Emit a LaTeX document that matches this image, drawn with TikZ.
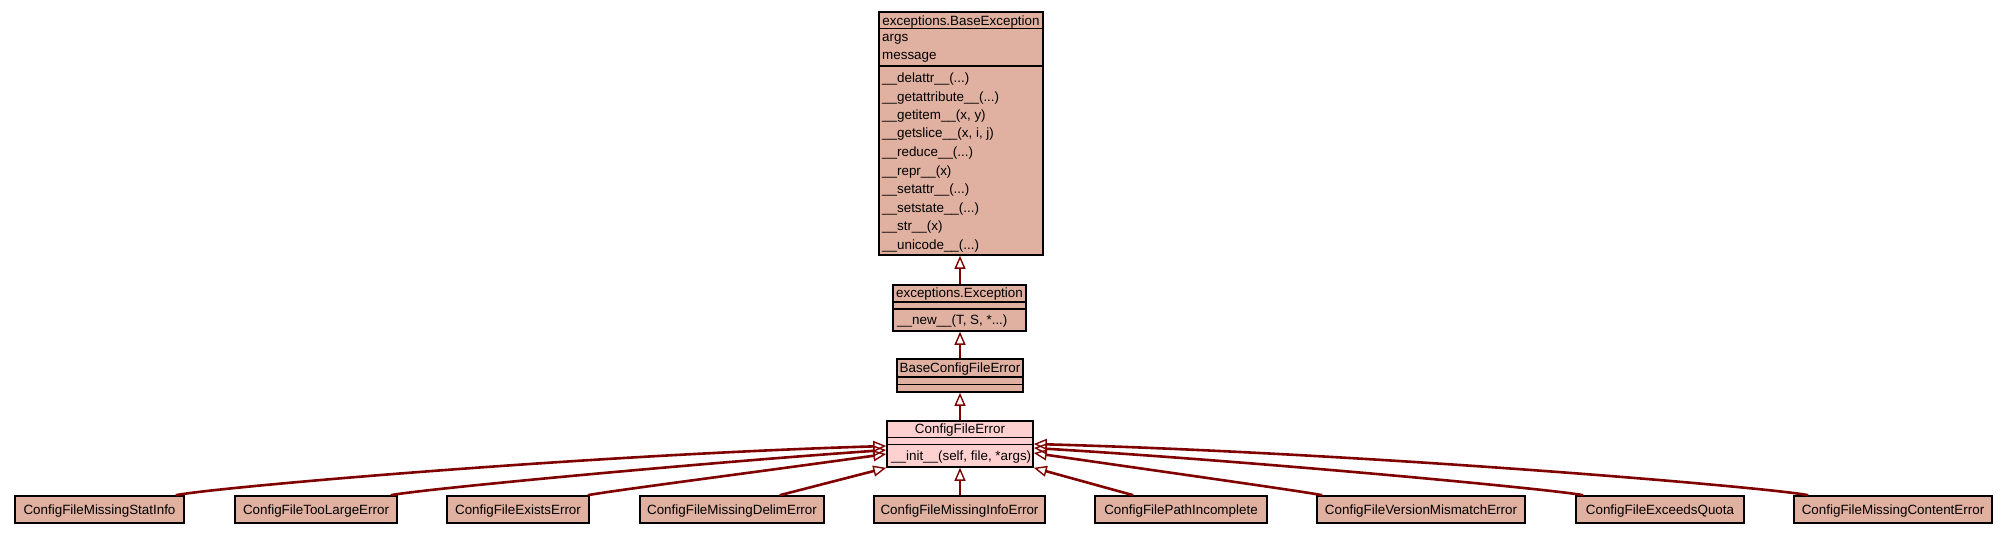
\documentclass[tikz,border=0pt]{standalone}
\usepackage{fontspec}
\setmainfont{Liberation Sans}
\usetikzlibrary{arrows.meta,calc}
\definecolor{clsbg}{HTML}{E0B0A0}
\definecolor{selbg}{HTML}{FFD0D0}
\definecolor{inhcol}{HTML}{800000}
\begin{document}
\begin{tikzpicture}[x=1pt,y=-1pt,
  every node/.style={font=\fontsize{13.4}{16}\selectfont, inner sep=0pt, text height=9.5pt, text depth=0pt},
  classbox/.style={draw=black, line width=1.6pt, fill=clsbg},
  selbox/.style={draw=black, line width=1.6pt, fill=selbg},
  leafbox/.style={draw=black, line width=1.6pt, fill=clsbg, minimum height=27pt},
  sepline/.style={draw=black, line width=1.6pt},
  inh/.style={draw=inhcol, line width=2.6pt, -{Triangle[open, length=13pt, width=11pt, line width=1.4pt]}},
  lt/.style={anchor=west}
]
\fill[white] (0,0) rectangle (2008,533);
\useasboundingbox (0,0) rectangle (2008,533);

% exceptions.BaseException
\node[classbox, minimum width=164pt, minimum height=243pt] (bexc) at (961,133.5) {};
\draw[sepline] (879,28.3) -- (1043,28.3);
\draw[sepline] (879,66) -- (1043,66);
\node (bexct) at (961,20.5) {exceptions.BaseException};
\node[lt] (ba1) at (882,36.5) {args};
\node[lt] (ba2) at (882,54.5) {message};
\node[lt] (bm1) at (882,77.3) {\_\_delattr\_\_(...)};
\node[lt] (bm2) at (882,96.5) {\_\_getattribute\_\_(...)};
\node[lt] (bm3) at (882,115) {\_\_getitem\_\_(x, y)};
\node[lt] (bm4) at (882,133) {\_\_getslice\_\_(x, i, j)};
\node[lt] (bm5) at (882,151.7) {\_\_reduce\_\_(...)};
\node[lt] (bm6) at (882,170.5) {\_\_repr\_\_(x)};
\node[lt] (bm7) at (882,189) {\_\_setattr\_\_(...)};
\node[lt] (bm8) at (882,207.5) {\_\_setstate\_\_(...)};
\node[lt] (bm9) at (882,226) {\_\_str\_\_(x)};
\node[lt] (bm10) at (882,245) {\_\_unicode\_\_(...)};

% exceptions.Exception
\node[classbox, minimum width=133pt, minimum height=46pt] (exc) at (959.5,308) {};
\draw[sepline] (893,302) -- (1026,302);
\draw[sepline] (893,309) -- (1026,309);
\node (exct) at (959.5,292.5) {exceptions.Exception};
\node[lt] (excm) at (897,319.5) {\_\_new\_\_(T, S, *...)};

% BaseConfigFileError
\node[classbox, minimum width=126pt, minimum height=33pt] (bcfe) at (960,375.5) {};
\draw[sepline] (897,377) -- (1023,377);
\draw[sepline] (897,384.3) -- (1023,384.3);
\node (bcfet) at (960,367.5) {BaseConfigFileError};

% ConfigFileError
\node[selbox, minimum width=146pt, minimum height=46pt] (cfe) at (960,444) {};
\draw[sepline] (887,437.5) -- (1033,437.5);
\draw[sepline] (887,444.5) -- (1033,444.5);
\node (cfet) at (960,428.5) {ConfigFileError};
\node[lt] (cfem) at (891,455.5) {\_\_init\_\_(self, file, *args)};

% subclasses
\node[leafbox, minimum width=169pt] (stat) at (99.5,509.5) {ConfigFileMissingStatInfo};
\node[leafbox, minimum width=162pt] (toolarge) at (316,509.5) {ConfigFileTooLargeError};
\node[leafbox, minimum width=142pt] (exists) at (518,509.5) {ConfigFileExistsError};
\node[leafbox, minimum width=184pt] (delim) at (732,509.5) {ConfigFileMissingDelimError};
\node[leafbox, minimum width=171pt] (info) at (959.5,509.5) {ConfigFileMissingInfoError};
\node[leafbox, minimum width=172pt] (pathinc) at (1181,509.5) {ConfigFilePathIncomplete};
\node[leafbox, minimum width=208pt] (version) at (1421,509.5) {ConfigFileVersionMismatchError};
\node[leafbox, minimum width=168pt] (quota) at (1660,509.5) {ConfigFileExceedsQuota};
\node[leafbox, minimum width=198pt] (content) at (1893,509.5) {ConfigFileMissingContentError};

% inheritance edges
\draw[inh] (exc.north -| cfe.north) -- (bexc.south -| cfe.north);
\draw[inh] (bcfe.north) -- (exc.south -| bcfe.north);
\draw[inh] (cfe.north) -- (bcfe.south);
\draw[inh] (info.north -| cfe.south) -- (cfe.south);

\draw[inh] ($(stat.north east)+(-9,0)$) .. controls +(40,-8) and +(-300,9) .. ($(cfe.west)+(0,2)$);
\draw[inh] ($(toolarge.north east)+(-7,0)$) .. controls +(30,-6) and +(-187,13) .. ($(cfe.west)+(0,6)$);
\draw[inh] ($(exists.north east)+(-2,0)$) .. controls +(20,-4) and +(-137,19) .. ($(cfe.west)+(0,10)$);
\draw[inh] ($(delim.north east)+(-45,0)$) -- (cfe.south west);
\draw[inh] ($(pathinc.north west)+(39,0)$) -- (cfe.south east);
\draw[inh] ($(version.north west)+(6,0)$) .. controls +(-20,-4) and +(117,17) .. ($(cfe.east)+(0,9)$);
\draw[inh] ($(quota.north west)+(8,0)$) .. controls +(-30,-6) and +(217,13) .. ($(cfe.east)+(0,4)$);
\draw[inh] ($(content.north west)+(15,0)$) .. controls +(-40,-8) and +(330,9) .. (cfe.east);
\end{tikzpicture}
\end{document}
